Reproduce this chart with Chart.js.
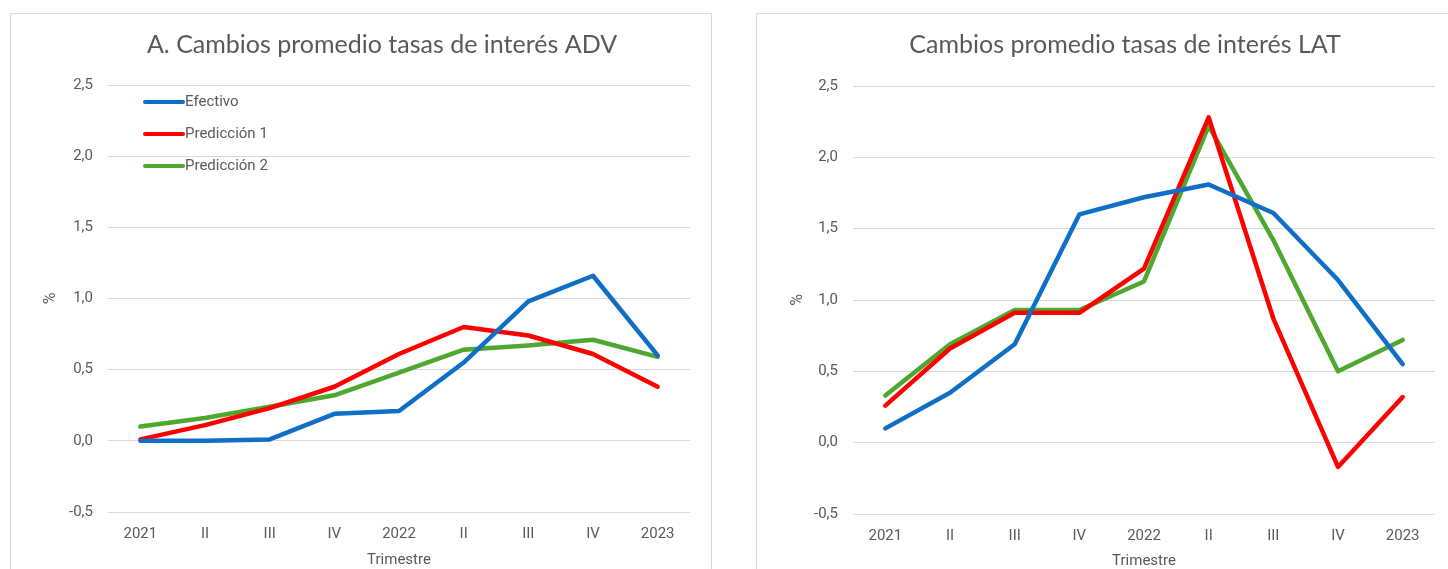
<!DOCTYPE html>
<html><head><meta charset="utf-8">
<script src="https://cdn.jsdelivr.net/npm/chart.js@4"></script>
<style>
html,body{margin:0;padding:0;background:#fff;overflow:hidden;}
body{width:1448px;height:569px;position:relative;}
.panel{position:absolute;border:1px solid #d9d9d9;background:#fff;}
#p1{left:10px;top:13px;width:700px;height:580px;}
#p2{left:756px;top:13px;width:700px;height:580px;}
canvas{display:block;}
</style></head><body>
<div class="panel" id="p1"><canvas id="c1" width="700" height="580"></canvas></div>
<div class="panel" id="p2"><canvas id="c2" width="700" height="580"></canvas></div>
<script>
const categories = ['2021','II','III','IV','2022','II','III','IV','2023'];
const seriesNames = ['Efectivo','Predicción 1','Predicción 2'];
const advEfectivo = [0.00,0.00,0.01,0.19,0.21,0.55,0.98,1.16,0.60];
const advPred1    = [0.01,0.11,0.23,0.38,0.61,0.80,0.74,0.61,0.38];
const advPred2    = [0.10,0.16,0.24,0.32,0.48,0.64,0.67,0.71,0.59];
const latEfectivo = [0.10,0.35,0.69,1.60,1.72,1.81,1.61,1.14,0.55];
const latPred1    = [0.26,0.66,0.91,0.91,1.22,2.28,0.87,-0.17,0.32];
const latPred2    = [0.33,0.69,0.93,0.93,1.13,2.22,1.42,0.50,0.72];
const yTicks = [-0.5,0,0.5,1,1.5,2,2.5];
const titleADV = 'A. Cambios promedio tasas de interés ADV';
const titleLAT = 'Cambios promedio tasas de interés LAT';
const xTitle = 'Trimestre';
const yTitle = '%';

const colors = ['#0f6fc6','#ff0000','#4ea72e'];
const textColor = '#595959';
const tickFont = "'Liberation Sans Narrow', 'Roboto', sans-serif";

const panelText = {
  id: 'panelText',
  afterDraw(chart, args, opts) {
    const ctx = chart.ctx;
    ctx.save();
    ctx.fillStyle = textColor;
    ctx.font = "25px Lato";
    ctx.textAlign = 'center';
    ctx.textBaseline = 'middle';
    ctx.fillText(opts.title, opts.tx, opts.ty);
    if (opts.legend) {
      const a = chart.chartArea;
      chart.data.datasets.forEach((ds, i) => {
        const y = a.top + opts.ly0 + i * opts.ldy;
        ctx.strokeStyle = ds.borderColor;
        ctx.lineWidth = 4;
        ctx.lineCap = 'round';
        ctx.beginPath();
        ctx.moveTo(a.left + opts.lx0, y);
        ctx.lineTo(a.left + opts.lx1, y);
        ctx.stroke();
        ctx.font = "15px " + tickFont;
        ctx.textAlign = 'left';
        ctx.fillText(ds.label, a.left + opts.lx1 + 2, y);
      });
    }
    ctx.restore();
  }
};

function makeChart(id, series, lay, pt) {
  return new Chart(document.getElementById(id), {
    type: 'line',
    data: {
      labels: categories,
      datasets: series.map((d, i) => ({
        label: seriesNames[i], data: d, borderColor: colors[i], backgroundColor: colors[i],
        borderWidth: 4.5, pointRadius: 0, tension: 0, borderJoinStyle: 'round', borderCapStyle: 'round', fill: false
      }))
    },
    options: {
      responsive: false, animation: false, events: [],
      layout: { padding: { left: lay.L, right: lay.R, top: lay.T, bottom: lay.B } },
      plugins: { legend: { display: false }, tooltip: { enabled: false }, title: { display: false }, panelText: pt },
      scales: {
        x: {
          type: 'category', offset: true,
          grid: { display: false, drawTicks: false },
          border: { display: false },
          ticks: { color: textColor, font: { family: tickFont, size: 15 }, padding: 13, maxRotation: 0, autoSkip: false },
          title: { display: true, text: xTitle, color: textColor, font: { family: tickFont, size: 15 }, padding: 0 },
          afterFit(s) { s.height = lay.Hx; }
        },
        y: {
          min: yTicks[0], max: yTicks[yTicks.length - 1],
          afterBuildTicks(s) { s.ticks = yTicks.map(v => ({ value: v })); },
          grid: { color: '#d9d9d9', lineWidth: 1, drawTicks: false },
          border: { display: false },
          ticks: { color: textColor, font: { family: tickFont, size: 15 }, padding: 15,
                   callback: v => v.toFixed(1).replace('.', ',') },
          title: { display: true, text: yTitle, color: textColor, font: { family: tickFont, size: 16 }, padding: 0 },
          afterFit(s) { s.width = lay.Wy; }
        }
      }
    },
    plugins: [panelText]
  });
}

makeChart('c1', [advEfectivo, advPred1, advPred2],
  { L: 30, Wy: 67, R: 21, T: 71, Hx: 57, B: 25 },
  { title: titleADV, tx: 371, ty: 31, legend: true, ly0: 17, ldy: 32, lx0: 37, lx1: 75 });
makeChart('c2', [latEfectivo, latPred1, latPred2],
  { L: 31, Wy: 65, R: 22, T: 72, Hx: 56, B: 24 },
  { title: titleLAT, tx: 368, ty: 31, legend: false });
</script>
</body></html>
